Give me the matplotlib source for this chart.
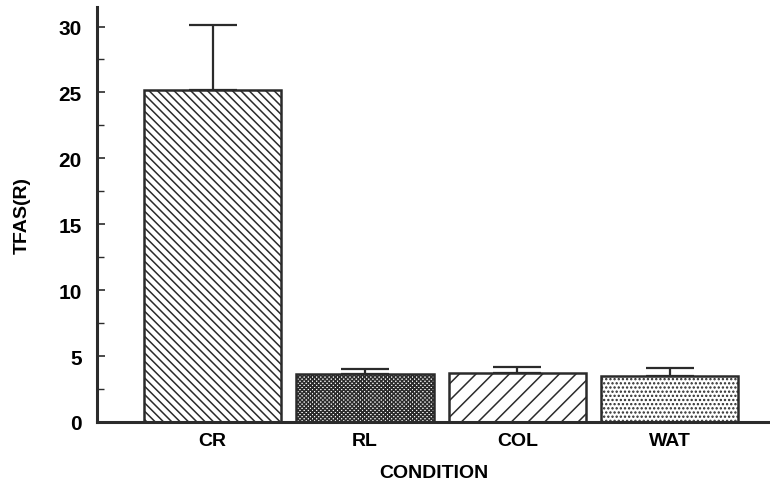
import matplotlib.pyplot as plt
import numpy as np

conditions = ["CR", "RL", "COL", "WAT"]
tfas_mean = [25.2, 3.6, 3.7, 3.5]
tfas_err = [4.9, 0.45, 0.45, 0.6]
hatches = ["\\\\\\\\", "xxxxxxxx", "//", "...."]

plt.rcParams["font.family"] = ["Liberation Sans", "DejaVu Sans"]
plt.rcParams["font.weight"] = "bold"
plt.rcParams["hatch.linewidth"] = 1.1
plt.rcParams["hatch.color"] = "#2b2b2b"

ink = "#2b2b2b"

fig = plt.figure(figsize=(7.7, 4.85), dpi=100)
ax = fig.add_axes([0.126, 0.128, 0.874, 0.856])

x = np.arange(len(conditions))
bars = ax.bar(x, tfas_mean, width=0.9, color="white", edgecolor=ink,
              linewidth=1.8, zorder=2)
for bar, h in zip(bars, hatches):
    bar.set_hatch(h)

ax.errorbar(x, tfas_mean, yerr=[np.zeros(len(x)), tfas_err], fmt="none",
            ecolor=ink, elinewidth=1.6, capsize=17, capthick=1.6, zorder=1)

ax.set_xlim(-0.76, 3.66)
ax.set_ylim(0, 31.5)
ax.set_yticks(np.arange(0, 31, 5))
ax.set_yticks(np.arange(2.5, 31, 5), minor=True)
ax.set_xticks(x)
ax.set_xticklabels(conditions)

for side in ("top", "right"):
    ax.spines[side].set_visible(False)
for side in ("left", "bottom"):
    ax.spines[side].set_linewidth(2.2)
    ax.spines[side].set_color(ink)

ax.tick_params(axis="y", direction="in", length=6, width=1.2, color=ink,
               labelsize=15, pad=11)
ax.tick_params(axis="y", which="minor", direction="in", length=5, width=1.0,
               color=ink)
ax.tick_params(axis="x", length=0, labelsize=14, pad=7)

ax.set_xlabel("CONDITION", fontsize=14, fontweight="bold", labelpad=11)
ax.set_ylabel("TFAS(R)", fontsize=14, fontweight="bold", labelpad=20)

fig.savefig("out.png", dpi=100)
